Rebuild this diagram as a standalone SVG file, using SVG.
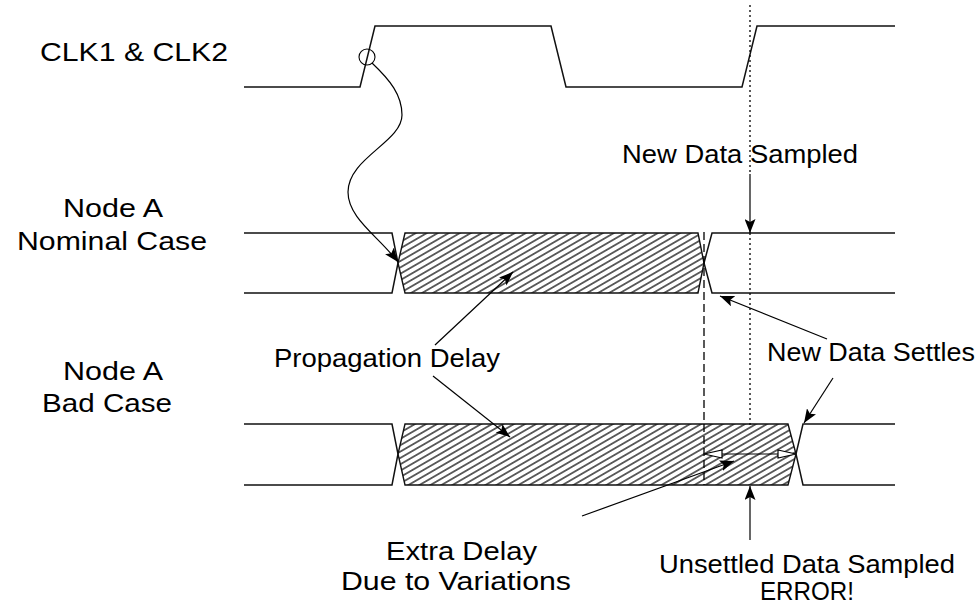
<svg xmlns="http://www.w3.org/2000/svg" width="980" height="613" viewBox="0 0 980 613">
<style>
.sig{fill:none;stroke:#111;stroke-width:1.5;stroke-linejoin:miter}
.hat{fill:url(#hatch);stroke:#111;stroke-width:1.4}
.lbl{font-family:"Liberation Sans",Arial,sans-serif;font-size:25px;fill:#000}
.arr{fill:none;stroke:#000;stroke-width:1.2;marker-end:url(#ah)}
.dot{fill:none;stroke:#000;stroke-width:1.3;stroke-dasharray:2,3}
.dash{fill:none;stroke:#000;stroke-width:1.3;stroke-dasharray:8,4}
</style>
<defs>
<pattern id="hatch" width="5.5" height="5.5" patternUnits="userSpaceOnUse" patternTransform="rotate(-30)">
<line x1="0" y1="2.75" x2="5.5" y2="2.75" stroke="#000" stroke-width="1.2"/>
</pattern>
<marker id="ah" markerWidth="15" markerHeight="11" refX="14" refY="5.5" orient="auto" markerUnits="userSpaceOnUse">
<path d="M0,0 L14,5.5 L0,11 L3,5.5 Z" fill="#000"/>
</marker>
<marker id="oh" markerWidth="21" markerHeight="11" refX="19" refY="5.5" orient="auto" markerUnits="userSpaceOnUse">
<path d="M1,1.5 L19,5.5 L1,9.5 Z" fill="#fff" stroke="#000" stroke-width="1.2"/>
</marker>
<marker id="ohs" markerWidth="21" markerHeight="11" refX="19" refY="5.5" orient="auto-start-reverse" markerUnits="userSpaceOnUse">
<path d="M1,1.5 L19,5.5 L1,9.5 Z" fill="#fff" stroke="#000" stroke-width="1.2"/>
</marker>
</defs>

<g id="labels">
<text class="lbl" x="40" y="61" textLength="188" lengthAdjust="spacingAndGlyphs">CLK1 &amp; CLK2</text>
<text class="lbl" x="63" y="217" textLength="100" lengthAdjust="spacingAndGlyphs">Node A</text>
<text class="lbl" x="17" y="250" textLength="190" lengthAdjust="spacingAndGlyphs">Nominal Case</text>
<text class="lbl" x="63" y="380" textLength="100" lengthAdjust="spacingAndGlyphs">Node A</text>
<text class="lbl" x="42" y="412" textLength="130" lengthAdjust="spacingAndGlyphs">Bad Case</text>
</g>

<g id="clk">
<polyline class="sig" points="244,87 360,87 375,26 551,26 566,87 742,87 757,26 895,26"/>
<circle cx="367" cy="57" r="8" fill="none" stroke="#000" stroke-width="1.1"/>
</g>

<g id="nominal">
<polyline class="sig" points="244,233 392,233 398,263 392,293 244,293"/>
<polygon class="hat" points="405,233 698,233 704,263 698,293 405,293 398,263"/>
<polyline class="sig" points="895,233 712,233 704,263 712,293 895,293"/>
</g>

<g id="bad">
<polyline class="sig" points="244,424 392,424 398,454 392,485 244,485"/>
<polygon class="hat" points="405,424 788,424 796,454 788,485 405,485 398,454"/>
<polyline class="sig" points="895,424 803,424 796,454 803,485 895,485"/>
</g>

<g id="guides">
<line class="dot" x1="750" y1="5" x2="750" y2="174"/>
<line class="dot" x1="750" y1="233" x2="750" y2="425"/>
<line class="dash" x1="704" y1="232" x2="704" y2="485"/>
</g>

<g id="annotations">
<text class="lbl" x="622" y="163" textLength="236" lengthAdjust="spacingAndGlyphs">New Data Sampled</text>
<text class="lbl" x="274" y="367" textLength="226" lengthAdjust="spacingAndGlyphs">Propagation Delay</text>
<text class="lbl" x="767" y="361" textLength="208" lengthAdjust="spacingAndGlyphs">New Data Settles</text>
<text class="lbl" x="386" y="560" textLength="151" lengthAdjust="spacingAndGlyphs">Extra Delay</text>
<text class="lbl" x="341" y="590" textLength="230" lengthAdjust="spacingAndGlyphs">Due to Variations</text>
<text class="lbl" x="659" y="573" textLength="296" lengthAdjust="spacingAndGlyphs">Unsettled Data Sampled</text>
<text class="lbl" x="760" y="600" textLength="94" lengthAdjust="spacingAndGlyphs">ERROR!</text>
</g>

<g id="connectors">
<path class="arr" d="M372,63 C390,80 402,95 402,115 C402,142 348,158 348,192 C348,218 378,236 398,262"/>
<line class="arr" x1="750" y1="174" x2="750" y2="233"/>
<line class="arr" x1="435" y1="345" x2="513" y2="272"/>
<line class="arr" x1="433" y1="376" x2="510" y2="437"/>
<line class="arr" x1="827" y1="339" x2="720" y2="296"/>
<line class="arr" x1="833" y1="378" x2="804" y2="423"/>
<line class="arr" x1="582" y1="516" x2="734" y2="461"/>
<line class="arr" x1="750" y1="540" x2="750" y2="486"/>
<line x1="704" y1="454" x2="796" y2="454" stroke="#000" stroke-width="1.1" marker-start="url(#ohs)" marker-end="url(#oh)"/>
</g>
</svg>
